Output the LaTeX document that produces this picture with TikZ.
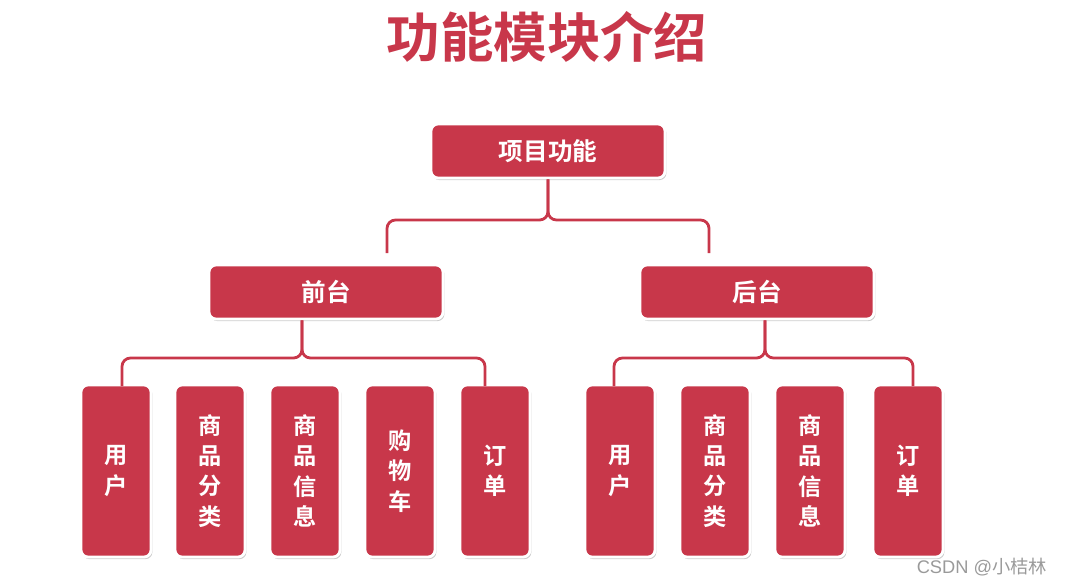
\documentclass[tikz,border=0pt]{standalone}
\usepackage{fontspec}
\usepackage{xcolor}
\usepackage{tikz}
\usetikzlibrary{positioning, calc, shadows}
\newfontfamily\cjk{Noto Sans CJK SC}[BoldFont={Noto Sans CJK SC Bold}]
\newfontfamily\latinsans{Liberation Sans}
\definecolor{boxred}{HTML}{C8374A}
\definecolor{marktext}{HTML}{9A9A9A}

\begin{document}
\begin{tikzpicture}[x=0.025cm, y=-0.025cm,
  box/.style={rectangle, rounded corners=5pt, fill=boxred, draw=white, line width=2pt,
    drop shadow={shadow xshift=1pt, shadow yshift=-1.5pt, opacity=0.4},
    text=white, font=\cjk\bfseries\fontsize{17.5}{17.5}\selectfont, inner sep=0pt},
  headbox/.style={box, minimum width=5.85cm, minimum height=1.35cm},
  leafbox/.style={box, minimum width=1.75cm, minimum height=4.3cm, align=center,
    font=\cjk\bfseries\fontsize{16.5}{21.5}\selectfont},
  brace/.style={boxred, line width=2pt, rounded corners=6pt}]
  \useasboundingbox (0,0) rectangle (1066,586);

  % Title
  \node[text=boxred, font=\cjk\bfseries\fontsize{38}{38}\selectfont] (title) at (547,37) {功能模块介绍};

  % Top level
  \node[headbox] (top) at (548,151) {项目功能};
  \node[headbox] (front) at (326,292) {前台};
  \node[headbox] (back) at (757,292) {后台};

  % Leaves, front end
  \node[leafbox] (f1) at (116,471) {用\\户};
  \node[leafbox] (f2) at (210,471) {商\\品\\分\\类};
  \node[leafbox] (f3) at (305,471) {商\\品\\信\\息};
  \node[leafbox] (f4) at (400,471) {购\\物\\车};
  \node[leafbox] (f5) at (495,471) {订\\单};

  % Leaves, back end
  \node[leafbox] (g1) at (620,471) {用\\户};
  \node[leafbox] (g2) at (715,471) {商\\品\\分\\类};
  \node[leafbox] (g3) at (810,471) {商\\品\\信\\息};
  \node[leafbox] (g4) at (908,471) {订\\单};

  % Brace points
  \coordinate (b1) at (548,220);
  \coordinate (e1) at (387,253);
  \coordinate (e2) at (709,253);
  \coordinate (b2) at (302,358);
  \coordinate (e3) at (122,386);
  \coordinate (e4) at (485,386);
  \coordinate (b3) at (765,358);
  \coordinate (e5) at (614,386);
  \coordinate (e6) at (913,386);

  % Braces
  \draw[brace] (e1) |- (b1) -- (top.south);
  \draw[brace] (e2) |- (b1) -- (top.south);
  \draw[brace] (e3) |- (b2) -- (b2 |- front.south);
  \draw[brace] (e4) |- (b2) -- (b2 |- front.south);
  \draw[brace] (e5) |- (b3) -- (b3 |- back.south);
  \draw[brace] (e6) |- (b3) -- (b3 |- back.south);

  % Watermark
  \node[text=marktext, font=\fontsize{13}{13}\selectfont, anchor=east] (mark) at (1052,567) {\latinsans CSDN @\cjk 小桔林};
\end{tikzpicture}
\end{document}
